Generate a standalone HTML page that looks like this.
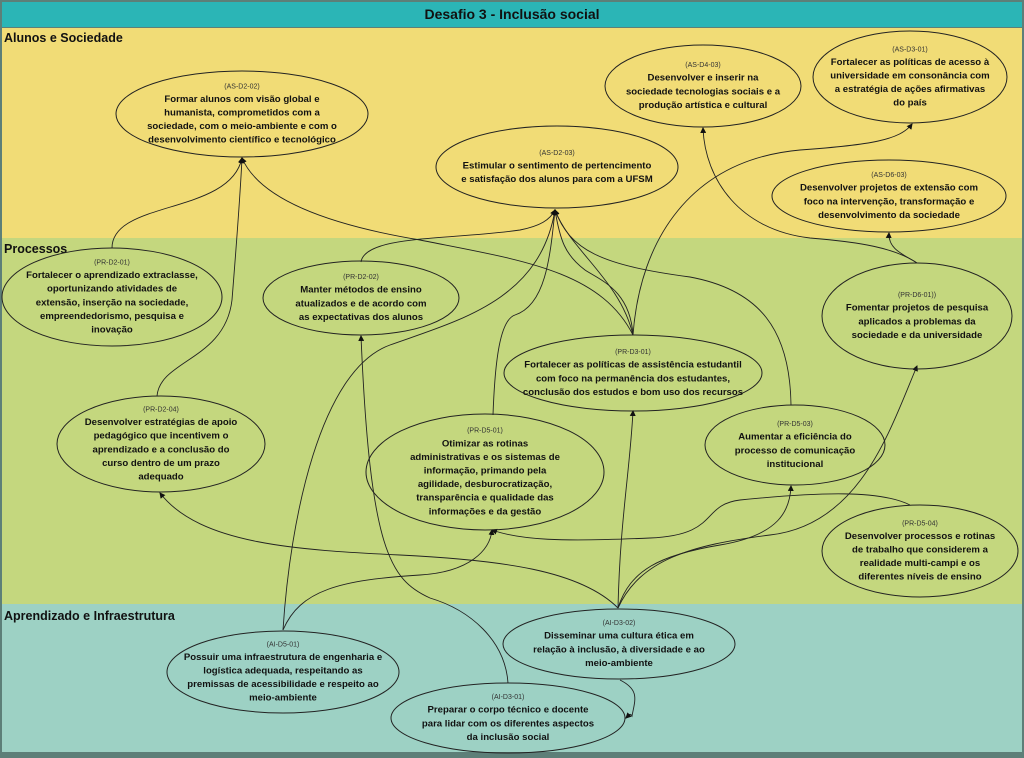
<!DOCTYPE html>
<html><head><meta charset="utf-8">
<style>
html,body{margin:0;padding:0;background:#fff;}
svg{display:block;font-family:"Liberation Sans",sans-serif;}
.t{font-size:9.6px;font-weight:bold;fill:#111;text-anchor:middle;}
.c{font-size:7px;fill:#333;text-anchor:middle;}
.e{fill:none;stroke:#222;stroke-width:1;}
.l{fill:none;stroke:#222;stroke-width:0.9;}
</style></head><body>
<svg id="s" width="1024" height="758" viewBox="0 0 1024 758" xmlns="http://www.w3.org/2000/svg">
<defs><marker id="a" markerWidth="6" markerHeight="6" refX="5" refY="3" orient="auto" markerUnits="userSpaceOnUse"><path d="M0,0 L6,3 L0,6z" fill="#111"/></marker></defs>
<rect x="0" y="0" width="1024" height="758" fill="#5d7f78"/>
<rect x="2" y="2" width="1020" height="25" fill="#2bb5b6"/>
<rect x="2" y="28" width="1020" height="210" fill="#f1dc76"/>
<rect x="2" y="238" width="1020" height="366" fill="#c4d77e"/>
<rect x="2" y="604" width="1020" height="148" fill="#9dd1c4"/>
<text x="512" y="19" style="font-size:14px;font-weight:bold;fill:#111;text-anchor:middle">Desafio 3 - Inclusão social</text>
<text x="4" y="42" style="font-size:12.5px;font-weight:bold;fill:#111">Alunos e Sociedade</text>
<text x="4" y="253" style="font-size:12.5px;font-weight:bold;fill:#111">Processos</text>
<text x="4" y="620" style="font-size:12.5px;font-weight:bold;fill:#111">Aprendizado e Infraestrutura</text>
<g id="lines">
<path class="l" marker-end="url(#a)" d="M112,248 C112,200 230,215 242,158"/>
<path class="l" marker-end="url(#a)" d="M157,396 C160,360 225,360 232,300 C236,250 240,200 242,158"/>
<path class="l" marker-end="url(#a)" d="M633,335 C600,270 520,260 420,240 C330,225 260,200 242,158"/>
<path class="l" marker-end="url(#a)" d="M361,262 C365,235 450,240 520,230 C540,226 550,220 555,210"/>
<path class="l" marker-end="url(#a)" d="M283,630 C290,520 320,370 390,345 C460,320 540,300 555,210"/>
<path class="l" marker-end="url(#a)" d="M493,415 C495,360 500,320 515,315 C545,305 550,260 555,210"/>
<path class="l" marker-end="url(#a)" d="M633,335 C620,280 570,250 555,210"/>
<path class="l" marker-end="url(#a)" d="M633,335 C630,290 600,280 585,270 C565,255 560,240 555,210"/>
<path class="l" marker-end="url(#a)" d="M791,405 C790,330 760,290 690,277 C600,265 570,250 555,210"/>
<path class="l" marker-end="url(#a)" d="M633,335 C640,240 690,160 800,150 C870,145 900,140 912,124"/>
<path class="l" marker-end="url(#a)" d="M917,263 C895,248 860,242 810,238 C740,230 705,180 703,128"/>
<path class="l" marker-end="url(#a)" d="M917,263 C905,255 888,250 889,233"/>
<path class="l" marker-end="url(#a)" d="M618,608 C620,520 630,470 633,411"/>
<path class="l" marker-end="url(#a)" d="M618,608 C630,570 660,555 720,545 C780,535 790,510 791,486"/>
<path class="l" marker-end="url(#a)" d="M618,608 C640,560 690,545 770,535 C860,525 890,430 917,366"/>
<path class="l" marker-end="url(#a)" d="M618,608 C580,570 500,560 400,555 C300,550 200,545 160,493"/>
<path class="l" marker-end="url(#a)" d="M283,630 C300,590 340,580 420,575 C470,572 490,550 492,530"/>
<path class="l" marker-end="url(#a)" d="M910,505 C880,490 820,492 740,500 C700,505 720,535 650,538 C560,542 520,540 492,530"/>
<path class="l" marker-end="url(#a)" d="M508,683 C505,640 470,610 430,598 C390,580 370,550 361,336"/>
<path class="l" marker-end="url(#a)" d="M620,680 C640,690 635,700 632,716 C630,712 628,716 626,718"/>
</g>
<g id="nodes"></g>
</svg>
<script>
var N=[
[242,114,126,43,"(AS-D2-02)",["Formar alunos com visão global e","humanista, comprometidos com a","sociedade, com o meio-ambiente e com o","desenvolvimento científico e tecnológico"]],
[557,167,121,41,"(AS-D2-03)",["Estimular o sentimento de pertencimento","e satisfação dos alunos para com a UFSM"]],
[703,86,98,41,"(AS-D4-03)",["Desenvolver e inserir na","sociedade tecnologias sociais e a","produção artística e cultural"]],
[910,77,97,46,"(AS-D3-01)",["Fortalecer as políticas de acesso à","universidade em consonância com","a estratégia de ações afirmativas","do país"]],
[889,196,117,36,"(AS-D6-03)",["Desenvolver projetos de extensão com","foco na intervenção, transformação e","desenvolvimento da sociedade"]],
[112,297,110,49,"(PR-D2-01)",["Fortalecer o aprendizado extraclasse,","oportunizando atividades de","extensão, inserção na sociedade,","empreendedorismo, pesquisa e","inovação"]],
[361,298,98,37,"(PR-D2-02)",["Manter métodos de ensino","atualizados e de acordo com","as expectativas dos alunos"]],
[917,316,95,53,"(PR-D6-01))",["Fomentar projetos de pesquisa","aplicados a problemas da","sociedade e da universidade"]],
[633,373,129,38,"(PR-D3-01)",["Fortalecer as políticas de assistência estudantil","com foco na permanência dos estudantes,","conclusão dos estudos e bom uso dos recursos"]],
[161,444,104,48,"(PR-D2-04)",["Desenvolver estratégias de apoio","pedagógico que incentivem o","aprendizado e a conclusão do","curso dentro de um prazo","adequado"]],
[485,472,119,58,"(PR-D5-01)",["Otimizar as rotinas","administrativas e os sistemas de","informação, primando pela","agilidade, desburocratização,","transparência e qualidade das","informações e da gestão"]],
[795,445,90,40,"(PR-D5-03)",["Aumentar a eficiência do","processo de comunicação","institucional"]],
[920,551,98,46,"(PR-D5-04)",["Desenvolver processos e rotinas","de trabalho que considerem a","realidade multi-campi e os","diferentes níveis de ensino"]],
[283,672,116,41,"(AI-D5-01)",["Possuir uma infraestrutura de engenharia e","logística adequada, respeitando as","premissas de acessibilidade e respeito ao","meio-ambiente"]],
[619,644,116,35,"(AI-D3-02)",["Disseminar uma cultura ética em","relação à inclusão, à diversidade e ao","meio-ambiente"]],
[508,718,117,35,"(AI-D3-01)",["Preparar o corpo técnico e docente","para lidar com os diferentes aspectos","da inclusão social"]]
];
var g=document.getElementById('nodes'),h="";
N.forEach(function(n){
 var cx=n[0],cy=n[1],lh=13.6,k=n[5].length;
 h+='<ellipse class="e" cx="'+cx+'" cy="'+cy+'" rx="'+n[2]+'" ry="'+n[3]+'"/>';
 var top=cy-(k*lh+9)/2;
 h+='<text class="c" x="'+cx+'" y="'+(top+6)+'">'+n[4]+'</text>';
 n[5].forEach(function(s,i){h+='<text class="t" x="'+cx+'" y="'+(top+9+lh*(i+1)-3)+'">'+s+'</text>';});
});
g.innerHTML=h;
</script>
</body></html>
